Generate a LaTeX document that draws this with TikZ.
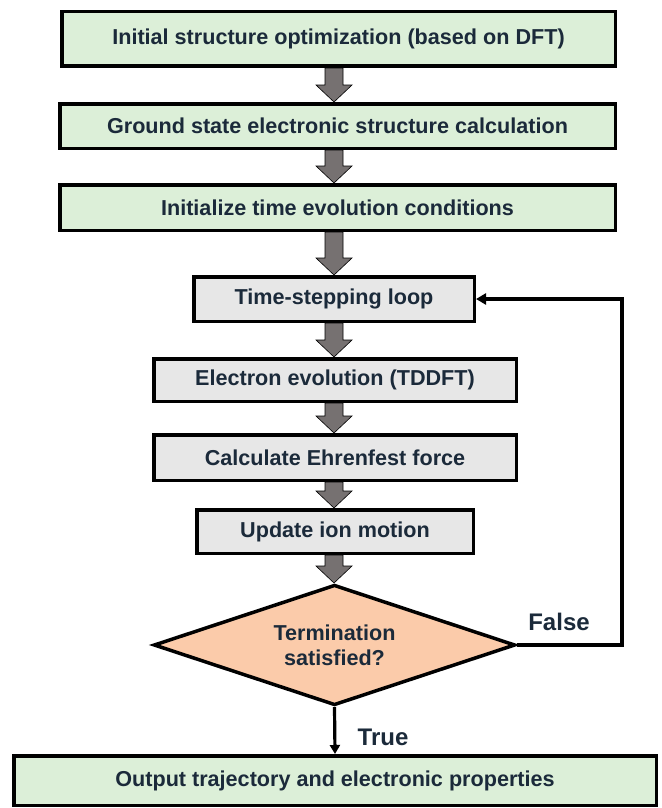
\documentclass[tikz,border=0pt]{standalone}
\usepackage{fontspec}
\setmainfont{Liberation Sans}
\usetikzlibrary{shapes.geometric,arrows.meta,calc,backgrounds}
\definecolor{boxgreen}{HTML}{DCEFD8}
\definecolor{boxgray}{HTML}{E7E7E7}
\definecolor{peach}{HTML}{FBCBAA}
\definecolor{arrowgray}{HTML}{767171}
\definecolor{txt}{HTML}{1B2A3A}
\newcommand{\fatarrow}[2]{%
  \path[fat] let \p1=(#1.south), \p2=(#2.north) in
    (325pt,\y1) -- (343pt,\y1) -- (343pt,{\y2+17pt}) -- (352pt,{\y2+17pt})
    -- (334pt,\y2) -- (316pt,{\y2+17pt}) -- (325pt,{\y2+17pt}) -- cycle;}
\begin{document}
\begin{tikzpicture}[x=1pt,y=-1pt,
  base/.style={draw=black, line width=3.5pt, font=\fontsize{21.6}{25}\selectfont\bfseries, text=txt, inner sep=0pt, align=center},
  greenbox/.style={base, fill=boxgreen, rectangle},
  graybox/.style={base, fill=boxgray, rectangle},
  decision/.style={base, fill=peach, diamond, shape aspect=3},
  lbl/.style={font=\fontsize{24}{28}\selectfont\bfseries, text=txt, inner sep=0pt},
  link/.style={draw=black, line width=3.2pt, -{Triangle[length=10pt,width=11pt]}},
  fat/.style={fill=arrowgray, draw=black, line width=0.6pt}
]
\useasboundingbox (0,0) rectangle (661,808);
\node[greenbox, minimum width=553.5pt, minimum height=54.5pt] (b1) at (338.5,39) {Initial structure optimization (based on DFT)};
\node[greenbox, minimum width=555.5pt, minimum height=44.5pt] (b2) at (337.5,126) {Ground state electronic structure calculation};
\node[greenbox, minimum width=555.5pt, minimum height=45.5pt] (b3) at (337.5,207.5) {Initialize time evolution conditions};
\node[graybox, minimum width=280.5pt, minimum height=44.5pt] (b4) at (334,299) {Time-stepping loop};
\node[graybox, minimum width=362.5pt, minimum height=42.5pt] (b5) at (335,380) {Electron evolution (TDDFT)};
\node[graybox, minimum width=362.5pt, minimum height=45.5pt] (b6) at (335,457.5) {Calculate Ehrenfest force};
\node[graybox, minimum width=276.5pt, minimum height=43.5pt] (b7) at (335,531.5) {Update ion motion};
\node[decision, minimum width=361.5pt, minimum height=120.5pt] (dec) at (334.5,645) {Termination\\satisfied?};
\node[greenbox, minimum width=642.5pt, minimum height=49.5pt] (b8) at (335,780.5) {Output trajectory and electronic properties};
\begin{scope}[on background layer]
\fatarrow{b1}{b2}
\fatarrow{b2}{b3}
\fatarrow{b3}{b4}
\fatarrow{b4}{b5}
\fatarrow{b5}{b6}
\fatarrow{b6}{b7}
\fatarrow{b7}{dec}
\end{scope}
\coordinate (loopc) at (622,645);
\draw[link] (dec.east) -- (loopc) |- (b4.east);
\draw[link, -{Triangle[length=9pt,width=10pt]}] (dec.south) -- (b8.north);
\node[lbl] (lfalse) at (559,622) {False};
\node[lbl] (ltrue) at (383,737) {True};
\end{tikzpicture}
\end{document}
